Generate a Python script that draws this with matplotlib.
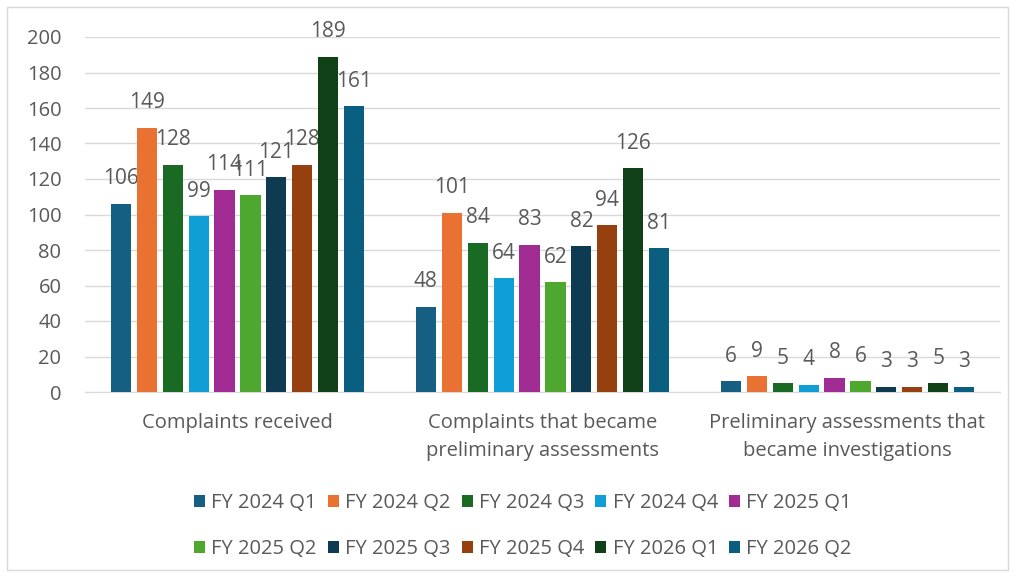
import numpy as np
import matplotlib.pyplot as plt
from matplotlib.patches import Rectangle

plt.rcParams['font.family'] = ['Open Sans', 'DejaVu Sans']

categories = ["Complaints received",
              "Complaints that became\npreliminary assessments",
              "Preliminary assessments that\nbecame investigations"]

series_names = ["FY 2024 Q1", "FY 2024 Q2", "FY 2024 Q3", "FY 2024 Q4", "FY 2025 Q1",
                "FY 2025 Q2", "FY 2025 Q3", "FY 2025 Q4", "FY 2026 Q1", "FY 2026 Q2"]

values = [
    [106, 48, 6],
    [149, 101, 9],
    [128, 84, 5],
    [99, 64, 4],
    [114, 83, 8],
    [111, 62, 6],
    [121, 82, 3],
    [128, 94, 3],
    [189, 126, 5],
    [161, 81, 3],
]

colors = ["#156082", "#e97132", "#196b24", "#0f9ed5", "#a02b93",
          "#4ea72e", "#0e3a52", "#96400f", "#0f4016", "#0a5f80"]

TEXT = "#595959"
GRID = "#d9d9d9"

fig = plt.figure(figsize=(10.16, 5.77), dpi=100)
ax = fig.add_axes([85 / 1016, 1 - 392 / 577, 915 / 1016, 355 / 577])

x = np.arange(len(categories))
step = 0.085
width = 0.066
n = len(series_names)

handles = []
for i, (name, vals, c) in enumerate(zip(series_names, values, colors)):
    pos = x + (i - (n - 1) / 2) * step
    bars = ax.bar(pos, vals, width, color=c, label=name, zorder=3)
    handles.append(bars)
    for b, v in zip(bars, vals):
        ax.annotate(str(v), (b.get_x() + b.get_width() / 2, v),
                    xytext=(0, 14), textcoords="offset points",
                    ha="center", va="baseline", fontsize=15, color=TEXT)

ax.set_xlim(-0.5, 2.5)
ax.set_ylim(0, 200)
ax.set_yticks(range(0, 201, 20))
ax.yaxis.grid(True, color=GRID, linewidth=1, zorder=0)
ax.set_xticks(x)
ax.set_xticklabels(categories, fontsize=14.5, color=TEXT, linespacing=1.55)
ax.tick_params(axis="x", length=0, pad=15)
ax.tick_params(axis="y", length=0, pad=17, labelsize=14.5, labelcolor=TEXT)
for s in ["top", "right", "left"]:
    ax.spines[s].set_visible(False)
ax.spines["bottom"].set_color(GRID)

# legend fills by column, so reorder to read row by row
order = [0, 5, 1, 6, 2, 7, 3, 8, 4, 9]
leg = fig.legend([handles[k] for k in order], [series_names[k] for k in order],
                 loc="center", bbox_to_anchor=(523 / 1016, 1 - 526 / 577), ncol=5,
                 frameon=False, fontsize=14.5, handlelength=0.55, handleheight=0.55,
                 handletextpad=0.3, columnspacing=0.55, labelspacing=1.3)
for t in leg.get_texts():
    t.set_color(TEXT)

fig.patches.append(Rectangle((7 / 1016, 7 / 577), 1001 / 1016, 563 / 577,
                             transform=fig.transFigure, fill=False,
                             edgecolor=GRID, linewidth=1))

fig.savefig("out.png", dpi=100, facecolor="white")
